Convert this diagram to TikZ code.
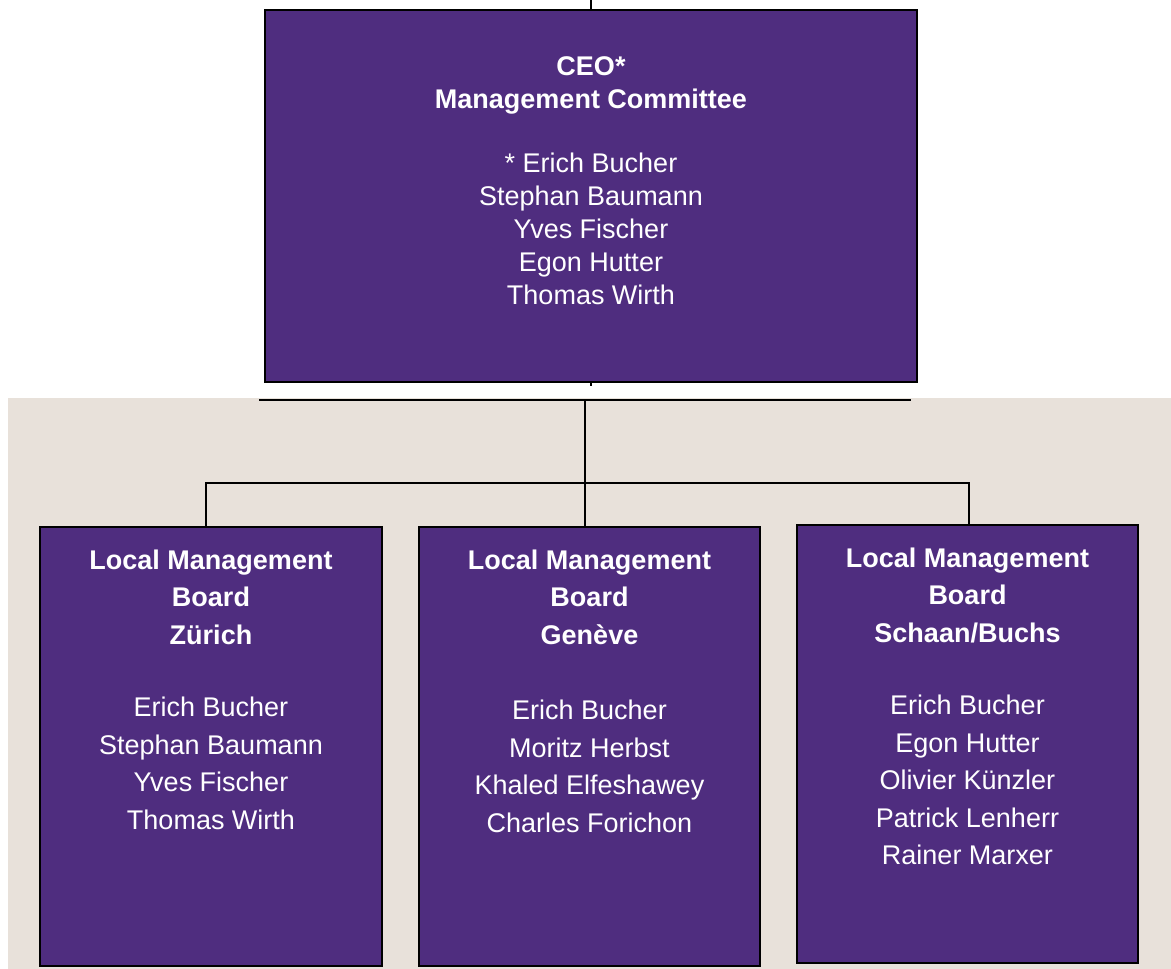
\documentclass[tikz,border=0pt]{standalone}
\usepackage{fontspec}
\setmainfont{Liberation Sans}
\usepackage{tikz}
\definecolor{boardpurple}{HTML}{4F2D7F}
\definecolor{bgbeige}{HTML}{E8E1DA}

\begin{document}
\begin{tikzpicture}[x=1pt, y=-1pt,
  board/.style={draw=black, line width=1.5pt, fill=boardpurple, inner sep=0pt},
  boardtext/.style={text=white, align=center, inner sep=0pt, anchor=north, font=\fontsize{27}{37.5}\selectfont},
  link/.style={draw=black, line width=1.3pt}]
\useasboundingbox (0,0) rectangle (1171,969);
\fill[bgbeige] (8,398) rectangle (1171,969);

\node[board, minimum width=652pt, minimum height=372pt] (ceo) at (591,196) {};
\node[boardtext, font=\fontsize{27}{33}\selectfont] (ceotext) at ([yshift=-47pt]ceo.north)
  {\textbf{CEO*}\\ \textbf{Management Committee}\\[31pt]
   * Erich Bucher\\ Stephan Baumann\\ Yves Fischer\\ Egon Hutter\\ Thomas Wirth};

\node[board, minimum width=342pt, minimum height=439pt] (zh) at (211,746.5) {};
\node[board, minimum width=341pt, minimum height=439pt] (ge) at (589.5,746.5) {};
\node[board, minimum width=341pt, minimum height=438pt] (bs) at (967.5,744) {};

\node[boardtext] (zhtext) at ([yshift=-23pt]zh.north)
  {\textbf{Local Management}\\ \textbf{Board}\\ \textbf{Zürich}\\[35pt]
   Erich Bucher\\ Stephan Baumann\\ Yves Fischer\\ Thomas Wirth};
\node[boardtext] (getext) at ([yshift=-23pt]ge.north)
  {\textbf{Local Management}\\ \textbf{Board}\\ \textbf{Genève}\\[38pt]
   Erich Bucher\\ Moritz Herbst\\ Khaled Elfeshawey\\ Charles Forichon};
\node[boardtext] (bstext) at ([yshift=-23pt]bs.north)
  {\textbf{Local Management}\\ \textbf{Board}\\ \textbf{Schaan/Buchs}\\[35pt]
   Erich Bucher\\ Egon Hutter\\ Olivier Künzler\\ Patrick Lenherr\\ Rainer Marxer};

% connectors
\coordinate (topin) at (591,0);
\coordinate (ceostub) at (591,386);
\coordinate (cutl) at (259,400);
\coordinate (cutr) at (911,400);
\coordinate (split) at (585,400);
\coordinate (busl) at (206,483);
\coordinate (busr) at (969,483);

\draw[link] (topin) -- (ceo.north);
\draw[link] (ceo.south) -- (ceostub);
\draw[link] (cutl) -- (cutr);
\draw[link] (split) -- (split |- ge.north);
\draw[link] (busl |- zh.north) -- (busl) -- (busr) -- (busr |- bs.north);
\end{tikzpicture}
\end{document}
